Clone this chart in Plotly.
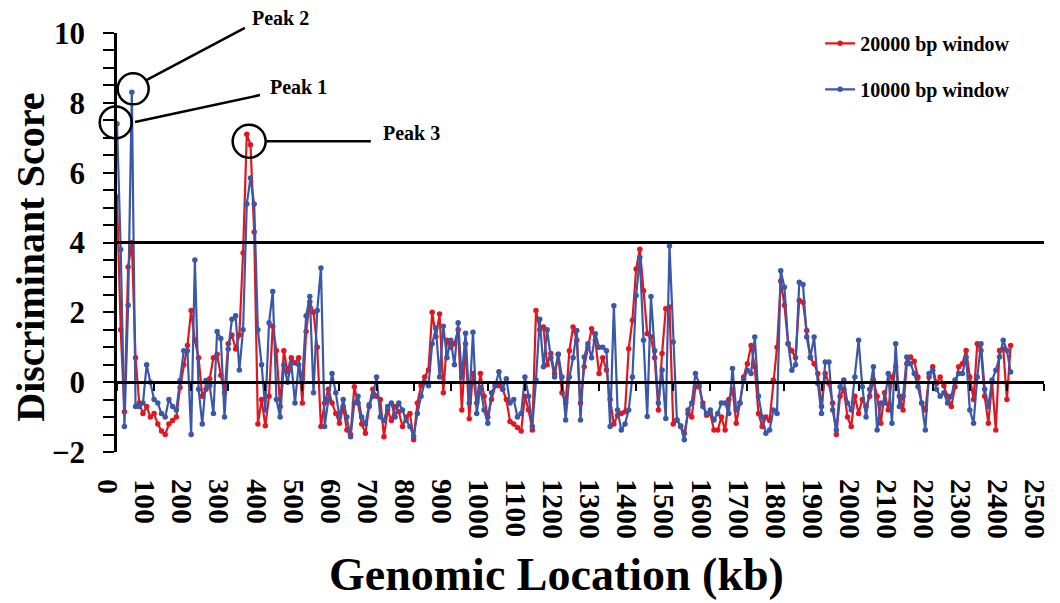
import plotly.graph_objects as go

# ---------------- data ----------------
# genomic window positions (kb), one window every 10 kb
location_kb = list(range(0, 2411, 10))

# 20000 bp window discriminant scores
score_20kb = [
    5.3, 1.5, -0.85, 3.3, 4.0, 0.7, -0.6, -0.9, -0.7, -1.0,
    -0.9, -1.2, -1.4, -1.5, -1.2, -1.1, -1.0, -0.15, 0.5, 1.05,
    2.05, 1.2, 0.7, -0.4, -0.2, 0.1, 0.7, 0.8, 0.2, -0.3,
    1.1, 1.35, 0.95, 1.35, 3.7, 7.1, 6.8, 4.3, -1.2, -0.5,
    -1.25, -0.4, 1.6, 0.9, -0.7, 0.9, 0.3, 0.7, 0.55, 0.7,
    -0.6, 1.45, 2.3, 2.0, 1.0, -1.27, -0.6, -0.2, -0.6, -0.9,
    -1.18, -0.7, -1.37, -1.5, -0.13, -0.6, -1.2, -1.46, -0.7, -0.2,
    -0.4, -0.5, -1.56, -0.8, -1.1, -0.7, -0.85, -1.27, -1.0, -0.9,
    -1.65, -0.6, -0.1, 0.15, 0.35, 2.0, 1.3, 1.95, -0.3, 1.2,
    1.0, 1.1, 1.5, -0.8, 1.1, -1.05, 0.25, -0.6, 0.25, -0.4,
    -1.0, -0.5, -0.1, -0.1, -0.2, -0.5, -1.13, -1.2, -1.3, -1.4,
    -0.4, -0.8, -1.37, 2.05, 1.5, 1.58, 0.5, 0.82, 0.25, 0.8,
    -0.3, -0.6, 0.9, 1.58, 1.2, -0.6, 0.44, 1.0, 1.53, 1.2,
    0.25, 0.7, 0.35, -0.5, -1.2, -0.95, -0.9, -0.85, 0.96, 1.77,
    3.24, 3.81, 2.62, 1.39, 1.3, 0.7, -0.8, 0.82, 2.1, 2.15,
    -1.2, -1.08, -1.27, -1.46, -0.9, -1.0, -0.13, -0.13, -0.6, -0.95,
    -0.9, -1.37, -1.37, -1.0, -1.37, -0.5, -0.2, -1.18, -0.6, 0.15,
    0.53, 1.05, 0.44, -0.9, -1.27, -1.0, -1.1, 0.06, 1.0, 2.9,
    2.2, 1.1, 0.9, 0.7, 2.34, 2.29, 1.48, 0.7, 0.53, 0.25,
    -0.7, 0.25, -0.04, -0.6, -1.5, -0.4, -0.2, -1.0, -1.27, -0.4,
    -0.9, -0.5, -0.7, -0.4, 0.06, -0.4, -1.18, -0.3, -0.8, 0.15,
    0.44, -0.4, -0.8, 0.53, 0.72, 0.6, 0.15, -0.6, -0.8, 0.15,
    0.44, -0.04, 0.15, -0.1, -0.4, -0.7, -0.13, 0.44, 0.53, 0.91,
    0.15, -0.5, 1.1, 0.91, -0.4, -1.18, 0.0, -1.37, 0.91, 0.96,
    -0.5, 1.05,
]

# 10000 bp window discriminant scores
score_10kb = [
    7.4, 3.8, -1.27, 2.2, 8.3, -0.7, -0.7, -0.6, 0.5, 0.0,
    -0.5, -0.6, -0.9, -1.0, -0.5, -0.7, -0.8, 0.05, 0.9, 0.9,
    -1.5, 3.5, -0.2, -1.2, 0.05, -0.1, -0.9, 1.45, 1.25, -1.0,
    0.95, 1.8, 1.9, 0.35, 1.5, 5.1, 5.85, 5.1, 1.5, 0.5,
    -0.8, 1.7, 2.6, -0.5, -1.0, 0.5, 0.0, 0.55, -0.6, 0.5,
    0.1, 1.9, 2.45, -0.3, 2.05, 3.27, -1.27, -0.5, 0.25, -0.3,
    -1.0, -0.5, -1.0, -1.56, -0.6, -0.4, -1.0, -1.2, -0.65, -0.4,
    0.15, -1.0, -1.1, -0.7, -0.6, -1.0, -0.6, -0.8, -1.1, -1.27,
    -1.55, -0.9, -0.4, 0.0, -0.1, 1.1, 1.55, 0.15, 1.6, 0.7,
    1.2, 0.5, 1.7, 0.15, 1.4, -0.6, 1.43, -0.9, -0.15, -0.8,
    -1.18, -0.3, -0.1, 0.3, -0.2, 0.1, -0.6, -0.5, -1.0, -0.9,
    0.15, -0.4, -1.27, 0.06, 1.8, 0.44, 1.5, 0.7, 0.15, 0.8,
    0.15, -1.08, 0.15, 0.7, 1.48, -1.08, 0.72, 1.1, 0.7, 1.39,
    1.0, 1.0, 0.9, -1.27, 2.19, -0.8, -1.37, -1.2, -0.8, 0.15,
    2.48, 3.57, 1.2, -0.98, 2.45, 0.9, -0.6, 0.35, -1.04, 3.9,
    1.15, -1.08, -1.25, -1.65, -0.8, -0.6, 0.25, -0.04, -0.7, -0.9,
    -0.8, -1.08, -0.9, -0.6, -0.6, -0.9, 0.39, -0.8, -0.6, 0.06,
    0.34, 0.25, 1.29, -0.4, -1.0, -1.46, -1.37, -0.8, -0.9, 3.19,
    2.72, 1.1, 0.34, 0.5, 2.86, 2.8, 1.29, 0.72, 1.29, -0.04,
    -0.9, 0.58, 0.58, -0.8, -1.37, -0.13, 0.06, -0.6, -0.8, 0.15,
    1.2, -0.13, -1.0, -0.2, 0.44, -1.37, -0.6, -0.6, 0.25, -1.18,
    1.1, -0.7, -0.4, 0.72, 0.53, 0.25, -0.13, -0.6, -1.37, 0.25,
    0.34, -0.2, -0.4, -0.3, -0.6, -0.4, 0.06, 0.25, 0.25, 0.72,
    -0.8, -1.18, 0.15, 1.1, -0.2, -0.7, 0.06, 0.34, 0.72, 1.2,
    0.91, 0.29,
]

series_names = ["20000 bp window", "10000 bp window"]
x_tick_values = list(range(0, 2501, 100))
threshold = 4
x_title = "Genomic Location (kb)"
y_title = "Discriminant Score"

peak_labels = ["Peak 1", "Peak 2", "Peak 3"]
peak_kb = [-3.5, 43.6, 356.4]
peak_score = [7.44, 8.40, 6.90]

# ---------------- style ----------------
X_RANGE = [0, 2500]
Y_RANGE = [-2, 10]
RED = "#E1161E"
BLUE = "#3A58A8"
FONT = "Liberation Serif"
W, H = 1060, 603
M = dict(l=117, r=8, t=33, b=151)

# circle radius (px), leader-line offsets (px, from circle centre), label offsets (px)
peak_radius = [16, 15.5, 16.5]
peak_line = [(19.3, 0.3, 144.3, 27.3), (13.7, 9.0, 111.7, 61.0), (16.7, 0.0, 121.7, 0.0)]
peak_text_shift = [(152, 35), (117, 71), (132, 8)]

fig = go.Figure()
fig.add_trace(go.Scatter(
    x=location_kb, y=score_20kb, name=series_names[0], mode="lines+markers",
    line=dict(color=RED, width=2.2), marker=dict(color=RED, size=5.5),
    legendgroup="a", xaxis="x", yaxis="y",
))
fig.add_trace(go.Scatter(
    x=location_kb, y=score_10kb, name=series_names[1], mode="lines+markers",
    line=dict(color=BLUE, width=2.2), marker=dict(color=BLUE, size=5.5),
    legendgroup="b", xaxis="x2", yaxis="y",
))

# threshold line
fig.add_shape(type="line", xref="x", yref="y", x0=X_RANGE[0], x1=X_RANGE[1],
              y0=threshold, y1=threshold, line=dict(color="black", width=3), layer="above")

def to_paper_x(v):
    return (v - X_RANGE[0]) / (X_RANGE[1] - X_RANGE[0])

def to_paper_y(v):
    return (v - Y_RANGE[0]) / (Y_RANGE[1] - Y_RANGE[0])

for lab, kx, ky, r, ln, ts in zip(peak_labels, peak_kb, peak_score, peak_radius, peak_line, peak_text_shift):
    px, py = to_paper_x(kx), to_paper_y(ky)
    fig.add_shape(type="circle", xref="paper", yref="paper", xsizemode="pixel", ysizemode="pixel",
                  xanchor=px, yanchor=py, x0=-r, x1=r, y0=-r, y1=r,
                  line=dict(color="black", width=2.5), layer="above")
    fig.add_shape(type="line", xref="paper", yref="paper", xsizemode="pixel", ysizemode="pixel",
                  xanchor=px, yanchor=py, x0=ln[0], y0=ln[1], x1=ln[2], y1=ln[3],
                  line=dict(color="black", width=2.5), layer="above")
    fig.add_annotation(x=px, y=py, xref="paper", yref="paper", text=lab, showarrow=False,
                       xanchor="left", yanchor="middle", xshift=ts[0], yshift=ts[1],
                       font=dict(family=FONT, size=20, weight="bold", color="black"))

# axis titles placed as in the reference (pixel positions converted to paper coords)
plot_w = W - M["l"] - M["r"]
plot_h = H - M["t"] - M["b"]
fig.add_annotation(text=x_title, xref="paper", yref="paper", showarrow=False,
                   x=(560 - M["l"]) / plot_w, y=-(602 - (H - M["b"])) / plot_h,
                   xanchor="center", yanchor="bottom",
                   font=dict(family=FONT, size=46, weight="bold", color="black"))
fig.add_annotation(text=y_title, xref="paper", yref="paper", showarrow=False, textangle=-90,
                   x=-(M["l"] - 29) / plot_w, y=1 - (257 - M["t"]) / plot_h,
                   xanchor="center", yanchor="middle",
                   font=dict(family=FONT, size=40, weight="bold", color="black"))

fig.update_layout(
    width=W, height=H,
    margin=M,
    paper_bgcolor="white", plot_bgcolor="white",
    font=dict(family=FONT, weight="bold", color="black"),
    showlegend=True,
    legend=dict(x=0.7585, y=1.022, xanchor="left", yanchor="top",
                font=dict(family=FONT, size=20, weight="bold", color="black"),
                tracegroupgap=17, bgcolor="rgba(0,0,0,0)"),
    xaxis=dict(
        range=X_RANGE, showline=False, showgrid=False, zeroline=False,
        tickmode="array", tickvals=x_tick_values, ticks="", tickangle=90,
        tickfont=dict(family=FONT, size=30, weight="bold", color="black"),
        ticklabelstandoff=26, ticklabelshift=-9, ticklabeloverflow="allow",
    ),
    xaxis2=dict(
        range=X_RANGE, matches="x", overlaying="x", anchor="free", position=to_paper_y(0),
        showline=True, linecolor="black", linewidth=2.5, showgrid=False, zeroline=False,
        tickmode="array", tickvals=x_tick_values, ticks="outside", ticklen=7, tickwidth=2,
        tickcolor="black", showticklabels=False, side="bottom",
    ),
    yaxis=dict(
        range=Y_RANGE, showline=True, linecolor="black", linewidth=2.5,
        showgrid=False, zeroline=False,
        tickmode="linear", tick0=0, dtick=2, ticks="outside", ticklen=11, tickwidth=2,
        tickcolor="black",
        minor=dict(tickmode="linear", tick0=0, dtick=0.5, ticks="outside", ticklen=11,
                   tickwidth=2, tickcolor="black", showgrid=False),
        tickfont=dict(family=FONT, size=31, weight="bold", color="black"),
        ticklabelstandoff=12,
    ),
)

fig.write_html("out.html", config={"displayModeBar": False},
               post_script="document.body.style.margin='0px';")
